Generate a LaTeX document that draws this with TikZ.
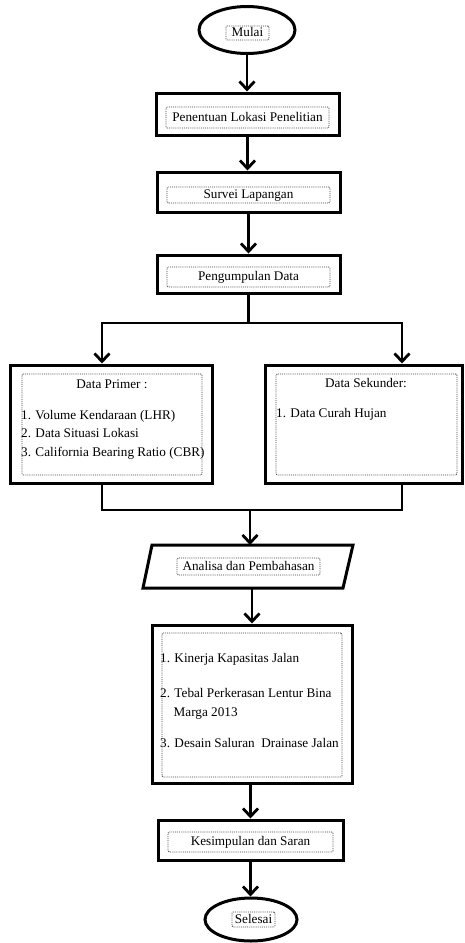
\documentclass[tikz,border=0pt]{standalone}
\usepackage{fontspec}
\setmainfont{Liberation Serif}
\usetikzlibrary{arrows.meta,shapes.geometric}
\newcommand{\diafont}{\fontsize{13.2}{16}\selectfont}
\begin{document}
\begin{tikzpicture}[x=1pt,y=-1pt,
  box/.style={draw, line width=3pt, rectangle, inner sep=0pt},
  term/.style={draw, line width=3pt, ellipse, inner sep=0pt},
  dotbox/.style={draw=black!75, densely dotted, line width=0.9pt, rounded corners=1.2pt, inner sep=0pt, text height=9.5pt, text depth=2.5pt, font=\diafont},
  txt/.style={inner sep=0pt, font=\diafont},
  link/.style={line width=2.8pt, line join=miter},
  arr/.style={link, -{Straight Barb[length=8pt,width=15pt]}},
]
\useasboundingbox (0,0) rectangle (465,943);

% terminals and process boxes
\node[term, minimum width=96pt, minimum height=47pt] (mulai) at (247,30) {};
\node[dotbox, minimum width=43pt, minimum height=14pt] (mulaiT) at (247.5,33) {Mulai};

\node[box, minimum width=183pt, minimum height=42pt] (b1) at (247.5,114) {};
\node[dotbox, minimum width=163pt, minimum height=21pt] (b1T) at (247.5,117.5) {Penentuan Lokasi Penelitian};

\node[box, minimum width=183pt, minimum height=40pt] (b2) at (248.5,192) {};
\node[dotbox, minimum width=163pt, minimum height=16pt] (b2T) at (248.5,195) {Survei Lapangan};

\node[box, minimum width=183pt, minimum height=38pt] (b3) at (248.5,274) {};
\node[dotbox, minimum width=163pt, minimum height=20pt] (b3T) at (248.5,277) {Pengumpulan Data};

% data boxes
\node[box, minimum width=202pt, minimum height=118pt] (prim) at (111,424) {};
\node[dotbox, minimum width=180pt, minimum height=101pt] (primT) at (112,424.5) {};
\node[txt, anchor=base] (primH) at (112,388.5) {Data Primer :};
\node[txt, anchor=base west] (p1) at (21,419.5) {1. Volume Kendaraan (LHR)};
\node[txt, anchor=base west] (p2) at (21,437.5) {2. Data Situasi Lokasi};
\node[txt, anchor=base west] (p3) at (21,456.5) {3. California Bearing Ratio (CBR)};

\node[box, minimum width=197pt, minimum height=118pt] (sek) at (363.5,424) {};
\node[dotbox, minimum width=181pt, minimum height=101pt] (sekT) at (366.5,424.5) {};
\node[txt, anchor=base] (sekH) at (366,387.5) {Data Sekunder:};
\node[txt, anchor=base west] (s1) at (276,417.5) {1. Data Curah Hujan};

% analysis (parallelogram)
\coordinate (anaTL) at (152,545);
\coordinate (anaTR) at (353,545);
\coordinate (anaBR) at (343,588);
\coordinate (anaBL) at (143,588);
\draw[line width=3pt, line join=miter] (anaTL) -- (anaTR) -- (anaBR) -- (anaBL) -- cycle;
\coordinate (anaTop) at (250,545);
\coordinate (anaBot) at (252,588);
\node[dotbox, minimum width=143pt, minimum height=17pt] (anaT) at (248.5,566.5) {Analisa dan Pembahasan};

\node[box, minimum width=200pt, minimum height=158pt] (hasil) at (252,704) {};
\node[dotbox, minimum width=180pt, minimum height=144pt] (hasilT) at (252,705) {};
\node[txt, anchor=base west] (h1) at (160,662.5) {1. Kinerja Kapasitas Jalan};
\node[txt, anchor=base west] (h2) at (160,697.5) {2. Tebal Perkerasan Lentur Bina};
\node[txt, anchor=base west] (h2b) at (173.5,716.5) {Marga 2013};
\node[txt, anchor=base west] (h3) at (160,747.5) {3. Desain Saluran\ \ Drainase Jalan};

\node[box, minimum width=185pt, minimum height=40pt] (kes) at (250.5,840) {};
\node[dotbox, minimum width=165pt, minimum height=20pt] (kesT) at (250.5,842) {Kesimpulan dan Saran};

\node[term, minimum width=92pt, minimum height=43pt] (sel) at (251,919.5) {};
\node[dotbox, minimum width=43pt, minimum height=15pt] (selT) at (253.5,919.5) {Selesai};

% connectors
\draw[arr] (mulai.south) -- (mulai.south |- b1.north);
\draw[arr] (b1.south) -- (b1.south |- b2.north);
\draw[arr] (b2.south) -- (b2.south |- b3.north);

\coordinate (sL) at (102,323);
\coordinate (sR) at (402,323);
\draw[arr] (b3.south) -- (b3.south |- sL) -- (sL) -- (sL |- prim.north);
\draw[arr] (b3.south |- sR) -- (sR) -- (sR |- sek.north);

\coordinate (jL) at (102,510);
\coordinate (jR) at (402,510);
\coordinate (jC) at (250,510);
\draw[link] (jL |- prim.south) -- (jL) -- (jR) -- (jR |- sek.south);
\draw[arr] (jC) -- (anaTop);

\draw[arr] (anaBot) -- (anaBot |- hasil.north);
\draw[arr] (kes.north |- hasil.south) -- (kes.north);
\draw[arr] (kes.south) -- (kes.south |- sel.north);
\end{tikzpicture}
\end{document}
